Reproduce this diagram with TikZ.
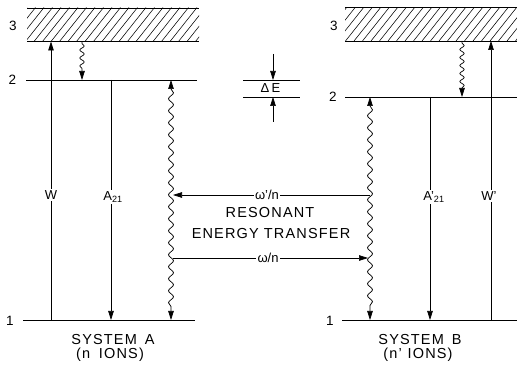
\documentclass[tikz,border=0pt]{standalone}
\usepackage{fontspec}
\setmainfont{Liberation Sans}
\usetikzlibrary{decorations.pathmorphing,arrows.meta}
\tikzset{
  lvl/.style={line width=0.9pt},
  thin/.style={line width=0.7pt},
  hatch/.style={line width=0.55pt},
  tipped/.style={-{Triangle[length=9pt,width=5.5pt]}},
  bothtips/.style={{Triangle[length=9pt,width=5.5pt]}-{Triangle[length=9pt,width=5.5pt]}},
  shortwave/.style={decorate, decoration={snake, amplitude=2.2pt, segment length=8pt, pre length=2pt, post length=9pt}},
  dwave/.style={decorate, decoration={snake, amplitude=2.5pt, segment length=12pt, pre length=9pt, post length=9pt}},
  numlbl/.style={font=\fontsize{13.5}{14}\selectfont, inner sep=0pt},
  midlbl/.style={fill=white, inner sep=1.5pt, font=\fontsize{13}{14}\selectfont},
  caption/.style={inner sep=0pt, font=\fontsize{14.5}{15}\selectfont\addfontfeatures{LetterSpace=8}},
}
\begin{document}
\begin{tikzpicture}[x=1pt,y=-1pt]
\useasboundingbox (0,0) rectangle (517,371);
\fill[white] (0,0) rectangle (517,371);

% ---------- System A ----------
\begin{scope}
  \clip (27,8) rectangle (199,41.5);
  \foreach \i in {0,...,24} \draw[hatch] (\i*8.5,41.5) -- ++(27,-34);
\end{scope}
\draw[lvl] (27,8) -- (199,8);
\draw[lvl] (27,41.5) -- (199,41.5);
\draw[lvl] (26,80) -- (197,80);
\draw[lvl] (23,320) -- (195,320);
\node[numlbl] (a3) at (13,26) {3};
\node[numlbl] (a2) at (12.5,80) {2};
\node[numlbl] (a1) at (10,321) {1};

\coordinate (aW1) at (51,320);  \coordinate (aW3) at (51,41.5);
\coordinate (aS3) at (82,41.5); \coordinate (aS2) at (82,80);
\coordinate (aA2) at (111,80);  \coordinate (aA1) at (111,320);
\coordinate (aR2) at (171,80);  \coordinate (aR1) at (171,320);

\draw[thin,tipped] (aW1) -- (aW3);
\node[midlbl] (wA) at (51,195) {W};
\draw[thin,tipped,shortwave] (aS3) -- (aS2);
\draw[thin,tipped] (aA2) -- (aA1);
\node[midlbl] (aA) at (113,197) {A\textsubscript{21}};
\draw[thin,bothtips,dwave] (aR2) -- (aR1);

\node[caption] (sysA) at (113,340) {SYSTEM\hspace{0.55em}A};
\node[caption] (ionsA) at (110,355) {(n\hspace{0.6em}IONS)};

% ---------- Delta E ----------
\draw[thin] (243,80) -- (300,80);
\draw[thin] (243,97) -- (300,97);
\coordinate (dT) at (273,54);  \coordinate (dT2) at (273,80);
\coordinate (dB) at (273,122); \coordinate (dB2) at (273,97);
\draw[thin,tipped] (dT) -- (dT2);
\draw[thin,tipped] (dB) -- (dB2);
\node[inner sep=0pt, font=\fontsize{13}{14}\selectfont] (dE) at (270.5,88.5) {Δ\,E};

% ---------- System B ----------
\begin{scope}
  \clip (345,7.5) rectangle (517,41);
  \foreach \i in {0,...,24} \draw[hatch] (320+\i*8.5,41) -- ++(27,-34);
\end{scope}
\draw[lvl] (345,7.5) -- (517,7.5);
\draw[lvl] (345,41) -- (517,41);
\draw[lvl] (345,97) -- (517,97);
\draw[lvl] (342,320) -- (517,320);
\node[numlbl] (b3) at (334,26) {3};
\node[numlbl] (b2) at (333,97) {2};
\node[numlbl] (b1) at (330,321) {1};

\coordinate (bS3) at (462,41);  \coordinate (bS2) at (462,97);
\coordinate (bW1) at (491,320); \coordinate (bW3) at (491,41);
\coordinate (bA2) at (430,97);  \coordinate (bA1) at (430,320);
\coordinate (bR2) at (370,97);  \coordinate (bR1) at (370,320);

\draw[thin,tipped,shortwave] (bS3) -- (bS2);
\draw[thin,tipped] (bW1) -- (bW3);
\node[midlbl] (wB) at (489,196) {W'};
\draw[thin,tipped] (bA2) -- (bA1);
\node[midlbl] (bA) at (434,197) {A'\textsubscript{21}};
\draw[thin,bothtips,dwave] (bR2) -- (bR1);

\node[caption] (sysB) at (420,340) {SYSTEM\hspace{0.55em}B};
\node[caption] (ionsB) at (418,355) {(n'\hspace{0.4em}IONS)};

% ---------- Transfer ----------
\coordinate (tR1) at (370,195); \coordinate (tL1) at (173,195);
\coordinate (tL2) at (173,258); \coordinate (tR2) at (368,258);
\draw[thin,tipped] (tR1) -- (tL1);
\node[midlbl] (wp) at (267,195) {ω'/n};
\draw[thin,tipped] (tL2) -- (tR2);
\node[midlbl] (wn) at (268,258) {ω/n};
\node[caption] (res) at (270,213) {RESONANT};
\node[caption] (ent) at (271,234) {ENERGY TRANSFER};
\end{tikzpicture}
\end{document}
